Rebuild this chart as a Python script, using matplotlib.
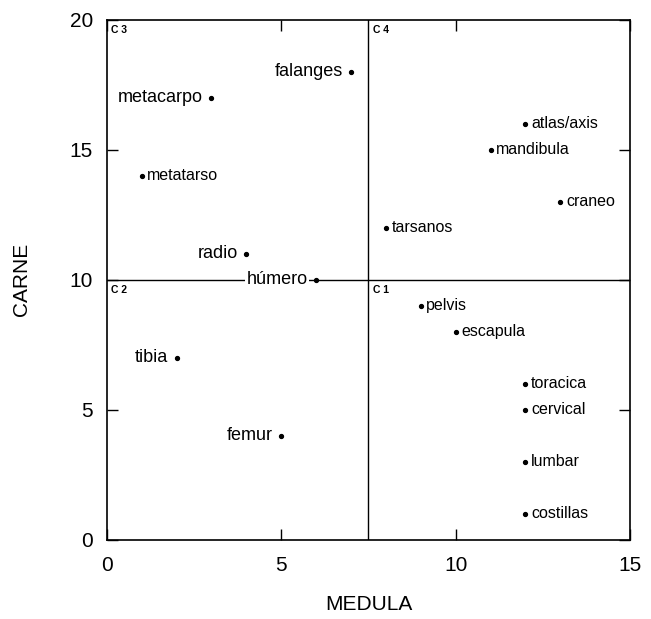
import matplotlib
matplotlib.use("Agg")
import matplotlib.pyplot as plt

plt.rcParams['font.family'] = ['Liberation Sans', 'DejaVu Sans']

# bones: medula (x), carne (y)
names = ['falanges', 'metacarpo', 'metatarso', 'radio', 'húmero', 'tibia', 'femur',
         'atlas/axis', 'mandibula', 'craneo', 'tarsanos',
         'pelvis', 'escapula', 'toracica', 'cervical', 'lumbar', 'costillas']
medula = [7, 3, 1, 4, 6, 2, 5, 12, 11, 13, 8, 9, 10, 12, 12, 12, 12]
carne = [18, 17, 14, 11, 10, 7, 4, 16, 15, 13, 12, 9, 8, 6, 5, 3, 1]
# which side of the dot the label goes
side = ['left', 'left', 'right', 'left', 'left', 'left', 'left',
        'right', 'right', 'right', 'right',
        'right', 'right', 'right', 'right', 'right', 'right']

quadrants = ['C 1', 'C 2', 'C 3', 'C 4']
quad_pos = [(7.5, 10), (0, 10), (0, 20), (7.5, 20)]

fig = plt.figure(figsize=(6.51, 6.19), dpi=100)
ax = fig.add_axes([0.164, 0.128, 0.804, 0.840])

ax.axvline(7.5, color='black', lw=1.0, zorder=1)
ax.axhline(10, color='black', lw=1.0, zorder=1)

ax.plot(medula, carne, 'o', color='black', ms=2.8, zorder=3)

for n, x, y, s in zip(names, medula, carne, side):
    if s == 'left':
        t = ax.annotate(n, (x, y), xytext=(-6, 0), textcoords='offset points',
                        ha='right', va='center', fontsize=13)
    else:
        t = ax.annotate(n, (x, y), xytext=(4, 0), textcoords='offset points',
                        ha='left', va='center', fontsize=11.5)
    if n == 'húmero':
        t.set_bbox(dict(facecolor='white', edgecolor='none', pad=1))
        t.set_zorder(2)

for q, (qx, qy) in zip(quadrants, quad_pos):
    ax.annotate(q, (qx, qy), xytext=(3, -4), textcoords='offset points',
                ha='left', va='top', fontsize=7.5, fontweight='bold')

ax.set_xlim(0, 15)
ax.set_ylim(0, 20)
ax.set_xticks([0, 5, 10, 15])
ax.set_yticks([0, 5, 10, 15, 20])
ax.tick_params(direction='in', length=8, width=1, top=True, right=True,
               labelsize=15)
ax.tick_params(axis='x', pad=12)
ax.tick_params(axis='y', pad=10)
for sp in ax.spines.values():
    sp.set_linewidth(1.2)

ax.set_xlabel('MEDULA', fontsize=15, labelpad=14)
ax.set_ylabel('CARNE', fontsize=15, labelpad=28)

fig.savefig('out.png', dpi=100)
